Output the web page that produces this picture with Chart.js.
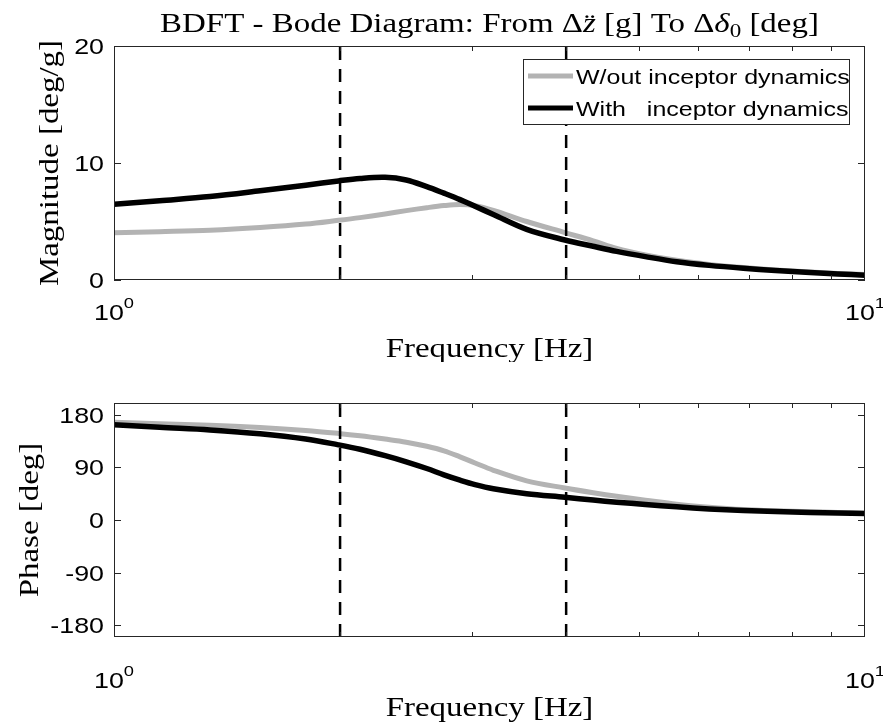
<!DOCTYPE html>
<html>
<head>
<meta charset="utf-8">
<script src="https://cdn.jsdelivr.net/npm/chart.js@4.4.1/dist/chart.umd.min.js"></script>
<style>
  body { margin: 0; background: #fff; width: 883px; height: 724px; overflow: hidden; position: relative; }
  canvas { position: absolute; left: 0; }
</style>
</head>
<body>
<canvas id="mag" width="883" height="362" style="top:0"></canvas>
<canvas id="phase" width="883" height="362" style="top:362px"></canvas>
<script>
// frequency samples [Hz]
const freq = [1, 1.15, 1.342, 1.565, 1.8, 1.99, 2.126, 2.296, 2.45, 2.609, 2.75, 2.889, 3.025, 3.2, 3.544, 3.985, 4.346, 4.67, 5.1, 5.614, 6.2, 6.887, 7.6, 8.45, 9.2, 10];

// magnitude [deg/g]
const magWithout = [4.03, 4.13, 4.26, 4.49, 4.78, 5.1, 5.33, 5.64, 5.93, 6.18, 6.36, 6.45, 6.35, 5.95, 5.0, 4.05, 3.35, 2.7, 2.15, 1.68, 1.33, 1.06, 0.86, 0.69, 0.56, 0.46];
const magWith = [6.47, 6.78, 7.13, 7.62, 8.1, 8.47, 8.68, 8.78, 8.55, 7.98, 7.42, 6.87, 6.3, 5.6, 4.33, 3.42, 2.88, 2.45, 2.0, 1.56, 1.25, 1.0, 0.81, 0.64, 0.52, 0.41];

// phase [deg]
const phaseWithout = [167, 164.5, 162, 158, 153, 148, 144, 138.3, 133, 126, 118.3, 108, 97.5, 85, 67, 54.7, 46.6, 40.5, 34, 27, 22, 18, 15.8, 14.2, 12.8, 11.6];
const phaseWith = [163, 158.5, 154, 147.5, 138.5, 128.5, 121, 110, 99.5, 88, 77, 68, 60.5, 53.5, 45, 38.8, 34, 30.5, 26.5, 22.5, 19, 16.2, 14.5, 13, 12, 11.3];

const markerFreqs = [2, 4];
const magTicks = [0, 10, 20];
const phaseTicks = [-180, -90, 0, 90, 180];
const decadeTicks = [1, 10];
const decadeExps = ['0', '1'];
const minorTicks = [2, 3, 4, 5, 6, 7, 8, 9];
const seriesNames = ['W/out inceptor dynamics', 'With   inceptor dynamics'];

const GRAY = '#b3b3b3';
const AXIS = '#262626';
const STRETCH = 1.22;
const SANS = '"Liberation Sans", Arial, sans-serif';
const SERIF = '"Liberation Serif", "Times New Roman", serif';

function pts(ys) {
    return freq.map((f, i) => ({ x: f, y: ys[i] }));
}

function drawText(ctx, text, x, y, font, align, rot) {
    ctx.save();
    ctx.translate(x, y);
    if (rot) ctx.rotate(rot);
    ctx.scale(STRETCH, 1);
    ctx.font = font;
    ctx.textAlign = align || 'center';
    ctx.textBaseline = 'alphabetic';
    ctx.fillStyle = '#000';
    ctx.fillText(text, 0, 0);
    ctx.restore();
}

// text made of runs (italic / subscript pieces), centred on cx
function drawRuns(ctx, runs, cx, y, size) {
    ctx.save();
    const fontOf = r => (r.it ? 'italic ' : '') + (r.sub ? size * 0.7 : size) + 'px ' + SERIF;
    let total = 0;
    runs.forEach(r => { ctx.font = fontOf(r); r.w = ctx.measureText(r.t).width * STRETCH; total += r.w; });
    let x = cx - total / 2;
    runs.forEach(r => {
        ctx.save();
        ctx.translate(x, y + (r.sub ? size * 0.2 : 0));
        ctx.scale(STRETCH, 1);
        ctx.font = fontOf(r);
        ctx.textAlign = 'left';
        ctx.fillStyle = '#000';
        ctx.fillText(r.t, 0, 0);
        ctx.restore();
        x += r.w;
    });
    ctx.restore();
}

const matlabAxes = {
    id: 'matlabAxes',
    afterDatasetsDraw(chart, args, o) {
        const ctx = chart.ctx;
        const a = chart.chartArea;
        const xs = chart.scales.x, ys = chart.scales.y;
        ctx.save();
        ctx.strokeStyle = AXIS;
        ctx.lineWidth = 1;
        ctx.strokeRect(a.left + 0.5, a.top + 0.5, a.right - a.left - 1, a.bottom - a.top - 1);

        ctx.beginPath();
        minorTicks.forEach(v => {
            const px = Math.round(xs.getPixelForValue(v)) + 0.5;
            ctx.moveTo(px, a.top); ctx.lineTo(px, a.top + 5);
            ctx.moveTo(px, a.bottom); ctx.lineTo(px, a.bottom - 5);
        });
        o.yTicks.forEach(v => {
            const py = Math.round(ys.getPixelForValue(v)) + 0.5;
            ctx.moveTo(a.left, py); ctx.lineTo(a.left + 7, py);
            ctx.moveTo(a.right, py); ctx.lineTo(a.right - 7, py);
        });
        ctx.stroke();

        // y tick labels
        o.yTicks.forEach(v => {
            const py = ys.getPixelForValue(v);
            drawText(ctx, String(v), a.left - 10, py + 8, '22px ' + SANS, 'right');
        });

        // decade labels 10^n
        decadeTicks.forEach((v, i) => {
            const px = xs.getPixelForValue(v);
            ctx.font = '22px ' + SANS;
            const wb = ctx.measureText('10').width * STRETCH;
            ctx.font = '15px ' + SANS;
            const we = ctx.measureText(decadeExps[i]).width * STRETCH;
            const x0 = px - (wb + we) / 2;
            drawText(ctx, '10', x0, a.bottom + o.decadeGap, '22px ' + SANS, 'left');
            drawText(ctx, decadeExps[i], x0 + wb, a.bottom + o.decadeGap - 12, '15px ' + SANS, 'left');
        });

        const cx = (a.left + a.right) / 2;
        drawText(ctx, 'Frequency [Hz]', cx, a.bottom + o.xTitleGap, '27px ' + SERIF, 'center');
        drawText(ctx, o.yTitle, o.yTitleX, (a.top + a.bottom) / 2, '27px ' + SERIF, 'center', -Math.PI / 2);

        if (o.title) {
            drawRuns(ctx, o.title, cx, a.top - 14, 27);
        }

        if (o.legend) {
            const lx = a.left + 409, ly = a.top + 13, lw = 326, lh = 65;
            ctx.fillStyle = '#fff';
            ctx.fillRect(lx, ly, lw, lh);
            ctx.strokeStyle = AXIS;
            ctx.lineWidth = 1;
            ctx.strokeRect(lx + 0.5, ly + 0.5, lw, lh);
            const colors = [GRAY, '#000'];
            seriesNames.forEach((name, i) => {
                const yy = ly + 17 + i * 32;
                ctx.strokeStyle = colors[i];
                ctx.lineWidth = 5;
                ctx.beginPath();
                ctx.moveTo(lx + 5, yy);
                ctx.lineTo(lx + 50, yy);
                ctx.stroke();
                drawText(ctx, name, lx + 53, yy + 7.5, '20.5px ' + SANS, 'left');
            });
        }
        ctx.restore();
    }
};

function makeChart(id, without, withDyn, yMin, yMax, pad, extra) {
    const markers = markerFreqs.map(f => ({
        data: [{ x: f, y: yMin }, { x: f, y: yMax }],
        borderColor: '#000',
        borderWidth: 2.5,
        borderDash: [13, 9],
        pointRadius: 0,
        order: 0
    }));
    return new Chart(document.getElementById(id), {
        type: 'line',
        data: {
            datasets: [
                ...markers,
                { label: seriesNames[1], data: pts(withDyn), borderColor: '#000', borderWidth: 5.5, pointRadius: 0, tension: 0.35, order: 1 },
                { label: seriesNames[0], data: pts(without), borderColor: GRAY, borderWidth: 5, pointRadius: 0, tension: 0.35, order: 2 }
            ]
        },
        options: {
            responsive: false,
            animation: false,
            devicePixelRatio: 1,
            layout: { padding: pad },
            scales: {
                x: { type: 'logarithmic', min: 1, max: 10, display: false },
                y: { type: 'linear', min: yMin, max: yMax, display: false }
            },
            plugins: {
                legend: { display: false },
                tooltip: { enabled: false },
                matlabAxes: extra
            }
        },
        plugins: [matlabAxes]
    });
}

makeChart('mag', magWithout, magWith, 0, 20, { left: 114, right: 18, top: 46, bottom: 82 }, {
    yTicks: magTicks,
    yTitle: 'Magnitude [deg/g]',
    yTitleX: 58,
    decadeGap: 40,
    xTitleGap: 77,
    legend: true,
    title: [
        { t: 'BDFT - Bode Diagram: From \u0394' },
        { t: 'z\u0308', it: true },
        { t: ' [g] To \u0394' },
        { t: '\u03b4', it: true },
        { t: '0', sub: true },
        { t: ' [deg]' }
    ]
});

makeChart('phase', phaseWithout, phaseWith, -200, 200, { left: 114, right: 18, top: 41, bottom: 87 }, {
    yTicks: phaseTicks,
    yTitle: 'Phase [deg]',
    yTitleX: 38,
    decadeGap: 51,
    xTitleGap: 79
});
</script>
</body>
</html>
